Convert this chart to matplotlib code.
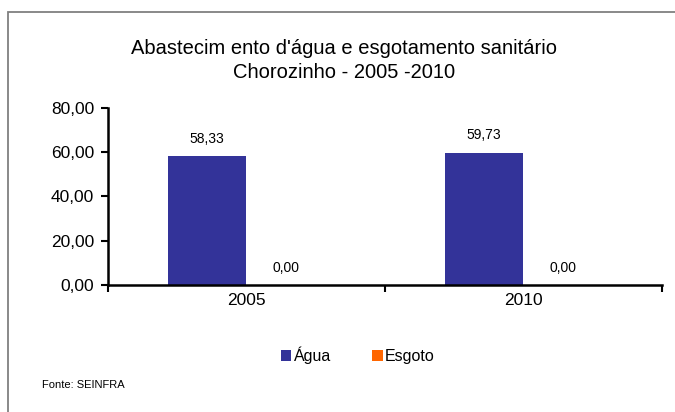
import matplotlib.pyplot as plt
import numpy as np
from matplotlib.patches import Rectangle

anos = ["2005", "2010"]
agua = [58.33, 59.73]
esgoto = [0.00, 0.00]
series = ["Água", "Esgoto"]
yticks = [0, 20, 40, 60, 80]

plt.rcParams['font.family'] = ['Liberation Sans', 'DejaVu Sans']

fig = plt.figure(figsize=(6.75, 4.12), dpi=100)
ax = fig.add_axes([0.16, 0.3083, 0.8207, 0.4296])

# moldura cinza (sai pela direita e por baixo)
fig.patches.append(Rectangle((8/675, -0.1), 1.2, 1 - 12/412 + 0.1, transform=fig.transFigure,
                             fill=False, edgecolor='#808080', linewidth=1.3, clip_on=False))

x = np.arange(len(anos)) + 0.5
w = 0.285
b1 = ax.bar(x - w/2, agua, w, color='#333399', label=series[0])
b2 = ax.bar(x + w/2, esgoto, w, color='#FF6600', label=series[1])

for rects, vals in [(b1, agua), (b2, esgoto)]:
    for r, v in zip(rects, vals):
        ax.annotate(f"{v:.2f}".replace('.', ','), (r.get_x() + r.get_width()/2, v),
                    xytext=(0, 7.5), textcoords='offset points', ha='center', va='bottom', fontsize=10)

ax.set_xlim(0, 2)
ax.set_ylim(0, 80)
ax.set_yticks(yticks)
ax.set_yticklabels([f"{t:.2f}".replace('.', ',') for t in yticks], fontsize=12.5)
ax.set_xticks([0, 1, 2])
ax.set_xticklabels([])
ax.set_xticks(x, minor=True)
ax.set_xticklabels(anos, minor=True, fontsize=12.5)
ax.tick_params(axis='x', which='minor', length=0, pad=6)
ax.tick_params(axis='x', which='major', length=5, width=1.5, direction='out')
ax.tick_params(axis='y', length=5, width=1.5, direction='out', pad=5)
for s in ['top', 'right']:
    ax.spines[s].set_visible(False)
for s in ['left', 'bottom']:
    ax.spines[s].set_linewidth(1.8)

fig.text(0.51, 1 - 48/412, "Abastecim ento d'água e esgotamento sanitário", ha='center', va='center', fontsize=14.5)
fig.text(0.51, 1 - 72/412, "Chorozinho - 2005 -2010", ha='center', va='center', fontsize=14.5)

leg = fig.legend(handles=[b1, b2], labels=series, loc='center', bbox_to_anchor=(0.53, 1 - 355/412),
                 ncol=2, frameon=False, fontsize=11.5, handlelength=0.65, handleheight=0.7,
                 handletextpad=0.15, columnspacing=2.6)

fig.text(42/675, 1 - 385/412, "Fonte: SEINFRA", ha='left', va='center', fontsize=8)

fig.savefig("out.png", dpi=100)
